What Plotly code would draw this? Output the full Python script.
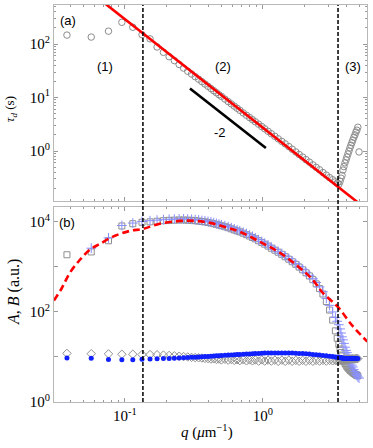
import math
import plotly.graph_objects as go

# ---------------- data ----------------
q = [0.038, 0.057, 0.076, 0.095, 0.114, 0.133, 0.152, 0.171, 0.19, 0.209,
     0.228, 0.247, 0.266, 0.285, 0.304, 0.323, 0.342, 0.361, 0.38, 0.40,
     0.42, 0.44, 0.46, 0.48, 0.50, 0.53, 0.56, 0.59, 0.62, 0.65,
     0.68, 0.72, 0.76, 0.80, 0.84, 0.88, 0.93, 0.98, 1.03, 1.09,
     1.15, 1.22, 1.29, 1.37, 1.45, 1.54, 1.63, 1.73, 1.83, 1.94,
     2.05, 2.17, 2.30, 2.43, 2.57, 2.72, 2.88, 3.04, 3.2, 3.35,
     3.45, 3.55, 3.62, 3.68, 3.74, 3.8, 3.86, 3.93, 4.0, 4.06,
     4.13, 4.2, 4.27, 4.34, 4.41, 4.48, 4.56, 4.64, 4.72, 4.79,
     4.87, 4.97]

tau = [147, 135, 174, 255, 206, 150, 125, 88, 70, 58,
       49, 41.5, 35.5, 31, 27.5, 24.5, 22, 19.8, 17.9, 16.2,
       14.7, 13.4, 12.3, 11.3, 10.5, 9.35, 8.4, 7.6, 6.9, 6.3,
       5.75, 5.15, 4.65, 4.22, 3.85, 3.52, 3.17, 2.86, 2.6, 2.33,
       2.1, 1.88, 1.69, 1.51, 1.36, 1.21, 1.08, 0.96, 0.86, 0.77,
       0.69, 0.62, 0.55, 0.495, 0.445, 0.395, 0.355, 0.318, 0.29, 0.265,
       0.25, 0.24, 0.27, 0.31, 0.35, 0.44, 0.51, 0.60, 0.68, 0.77,
       0.88, 1.0, 1.14, 1.28, 1.43, 1.6, 1.8, 2.0, 2.25, 2.45,
       2.78, 0.96]

A_gray = [1860, 2150, 3800, 8100, 9100, 9800, 10000, 10300, 10600, 10800,
          10900, 11000, 11000, 10900, 10800, 10600, 10400, 10200, 10000, 9700,
          9400, 9100, 8800, 8500, 8200, 7800, 7400, 7000, 6600, 6300,
          6000, 5600, 5200, 4850, 4500, 4200, 3800, 3500, 3200, 2900,
          2600, 2350, 2120, 1900, 1680, 1480, 1300, 1140, 990, 860,
          740, 630, 520, 420, 330, 250, 170, 110, 66, 38,
          26, 19, 15, 12.5, 10.5, 9, 8, 7.2, 6.6, 6.1,
          5.7, 5.4, 5.1, 4.9, 4.7, 4.5, 4.3, 4.15, 4.0, 3.9,
          3.8, None]

A_blue = [None, 2600, 4400, 8300, 9400, 10200, 10600, 10900, 11200, 11400,
          11500, 11600, 11600, 11500, 11400, 11200, 11000, 10700, 10500, 10200,
          9900, 9600, 9200, 8900, 8600, 8200, 7800, 7400, 7000, 6600,
          6300, 5900, 5500, 5100, 4750, 4400, 4000, 3650, 3350, 3050,
          2750, 2450, 2200, 1980, 1750, 1540, 1350, 1180, 1030, 890,
          760, 650, 545, 450, 360, 280, 200, 140, 100, 75,
          62, 52, 42, 34, 28, 24, 20, 16.5, 14, 12.5,
          11, 9.6, 8.4, 7.4, 6.6, 6.0, 5.3, 4.7, 4.2, 3.9,
          3.6, 3.4]

B_gray = [12.0, 11.8, 11.7, 11.5, 11.5, 11.3, 11.3, 11.2, 11.0, 10.8,
          10.6, 10.4, 10.2, 10.0, 9.8, 9.7, 9.6, 9.5, 9.3, 9.2,
          9.0, 9.1, 8.8, 9.0, 8.6, 8.9, 8.5, 8.8, 8.4, 8.7,
          8.3, 8.7, 8.2, 8.6, 8.2, 8.6, 8.1, 8.6, 8.1, 8.5,
          8.1, 8.5, 8.0, 8.5, 8.0, 8.5, 8.0, 8.4, 8.0, 8.4,
          8.0, 8.4, 8.0, 8.4, 8.1, 8.4, 8.1, 8.4, 8.2, 8.4,
          8.3, 8.5, 8.4, 8.6, 8.5, 8.7, 8.6, 8.8, 8.7, 8.9,
          8.8, 9.0, 8.9, 9.0, 9.0, 9.1, 9.0, 9.1, 9.1, 9.2,
          9.2, None]

B_blue = [9.5, 9.4, 8.8, 8.7, 8.7, 8.9, 9.0, 9.1, 9.2, 9.3,
          9.4, 9.5, 9.6, 9.7, 9.8, 9.9, 10.0, 10.1, 10.2, 10.3,
          10.4, 10.5, 10.6, 10.7, 10.8, 10.9, 11.0, 11.1, 11.2, 11.3,
          11.4, 11.5, 11.6, 11.7, 11.8, 11.9, 12.0, 12.1, 12.2, 12.3,
          12.3, 12.3, 12.3, 12.3, 12.3, 12.2, 12.2, 12.1, 12.0, 11.9,
          11.8, 11.6, 11.4, 11.2, 11.0, 10.8, 10.6, 10.4, 10.2, 10.0,
          9.9, 9.8, 9.7, 9.6, 9.5, 9.4, 9.4, 9.3, 9.3, 9.2,
          9.2, 9.2, 9.2, 9.2, 9.2, 9.2, 9.2, 9.2, 9.2, 9.2,
          9.2, None]

# power-law fit of tau_d (red line)
fit_tau_q = [0.07, 4.9]
fit_tau = [601, 0.108]

# slope -2 guide
slope_q = [0.296, 1.05]
slope_tau = [14.7, 1.14]

# model curve of A (red dashed)
fitA_q = [0.0306, 0.0349, 0.0399, 0.0472, 0.0557, 0.0659, 0.0846, 0.1087, 0.135,
          0.179, 0.25, 0.321, 0.413, 0.531, 0.682, 0.952, 1.33, 1.85, 2.30,
          2.68, 3.49, 4.41, 5.7]
fitA = [180, 340, 740, 1440, 2400, 3250, 4900, 6300, 7000,
        9100, 10500, 10500, 9500, 7700, 6000, 3600, 2050, 950, 515,
        277, 129, 51, 22]

# regime boundaries
q_bounds = [0.135, 3.5]

# axis ranges (log10) and tick labels
XR = [-1.514, 0.754]
YR_TOP = [-0.935, 2.73]
YR_BOT = [0.0, 4.33]
x_tickvals = [0.1, 1]
x_ticktext = ["10<sup>-1</sup>", "10<sup>0</sup>"]
ytop_tickvals = [1, 10, 100]
ytop_ticktext = ["10<sup>0</sup>", "10<sup>1</sup>", "10<sup>2</sup>"]
ybot_tickvals = [1, 10, 100, 1000, 10000]
ybot_ticktext = ["10<sup>0</sup>", "", "10<sup>2</sup>", "", "10<sup>4</sup>"]

# ---------------- figure ----------------
GRAY = "#8c8c8c"
fig = go.Figure()

# top panel
fig.add_trace(go.Scatter(x=q, y=tau, mode="markers", xaxis="x2", yaxis="y2",
                         marker=dict(symbol="circle-open", size=6.5, color=GRAY,
                                     line=dict(width=1, color=GRAY))))
fig.add_trace(go.Scatter(x=fit_tau_q, y=fit_tau, mode="lines", xaxis="x2", yaxis="y2",
                         line=dict(color="#ff0000", width=2.6)))
fig.add_trace(go.Scatter(x=slope_q, y=slope_tau, mode="lines", xaxis="x2", yaxis="y2",
                         line=dict(color="black", width=2.6)))

# bottom panel
fig.add_trace(go.Scatter(x=q, y=A_gray, mode="markers",
                         marker=dict(symbol="square-open", size=6, color="#8f8f8f",
                                     line=dict(width=1, color="#8f8f8f"))))
fig.add_trace(go.Scatter(x=q, y=A_blue, mode="markers",
                         marker=dict(symbol="cross-thin-open", size=7, color="#8a90ff",
                                     line=dict(width=1, color="#8a90ff"))))
fig.add_trace(go.Scatter(x=q, y=B_gray, mode="markers",
                         marker=dict(symbol="diamond-open", size=6.5, color="#8f8f8f",
                                     line=dict(width=1, color="#8f8f8f"))))
fig.add_trace(go.Scatter(x=q, y=B_blue, mode="markers",
                         marker=dict(symbol="circle", size=5, color="#1020ff")))
fig.add_trace(go.Scatter(x=fitA_q, y=fitA, mode="lines", line_shape="spline",
                         line=dict(color="#ff0000", width=2.6, dash="7px,4px")))

axis_common = dict(type="log", showline=True, linecolor="#b8b8b8", linewidth=1,
                   mirror="ticks", ticks="inside", ticklen=4, tickcolor="#999999",
                   showgrid=False, zeroline=False, automargin=False,
                   tickfont=dict(family="Liberation Serif", size=15, color="black"))

minor_x = [m * 10 ** e for e in (-2, -1, 0) for m in range(2, 10)]
minor_y = [m * 10 ** e for e in (-1, 0, 1, 2) for m in range(2, 10)]

fig.update_layout(
    width=373, height=448,
    margin=dict(l=54, r=6, t=5, b=46),
    paper_bgcolor="white", plot_bgcolor="white",
    showlegend=False,
    xaxis=dict(**axis_common, domain=[0, 1], anchor="y", range=XR,
               tickvals=x_tickvals, ticktext=x_ticktext,
               minor=dict(tickvals=minor_x, ticks="inside", ticklen=2, tickcolor="#999999")),
    xaxis2=dict(**axis_common, domain=[0, 1], anchor="y2", range=XR, matches="x",
                tickvals=x_tickvals, showticklabels=False,
                minor=dict(tickvals=minor_x, ticks="inside", ticklen=2, tickcolor="#999999")),
    yaxis=dict(**axis_common, domain=[0, 0.4912], anchor="x", range=YR_BOT,
               tickvals=ybot_tickvals, ticktext=ybot_ticktext),
    yaxis2=dict(**axis_common, domain=[0.5063, 1], anchor="x2", range=YR_TOP,
                tickvals=ytop_tickvals, ticktext=ytop_ticktext,
                minor=dict(tickvals=minor_y, ticks="inside", ticklen=2, tickcolor="#999999")),
)

# vertical dashed boundaries across both panels
for qb in q_bounds:
    xp = (math.log10(qb) - XR[0]) / (XR[1] - XR[0])
    fig.add_shape(type="line", xref="paper", yref="paper", x0=xp, x1=xp, y0=0, y1=1,
                  line=dict(color="black", width=1.5, dash="4px,2px"))

# labels
def lab(text, xp, yp, size=13, family="Liberation Sans", angle=0):
    fig.add_annotation(text=text, xref="paper", yref="paper", x=xp, y=yp,
                       showarrow=False, xanchor="center", yanchor="middle",
                       textangle=angle, font=dict(family=family, size=size, color="black"))

lab("(a)", 0.045, 0.962)
lab("(1)", 0.163, 0.844)
lab("(2)", 0.540, 0.844)
lab("(3)", 0.955, 0.844)
lab("-2", 0.530, 0.680)
lab("(b)", 0.042, 0.453)
lab("<i>τ<sub>d</sub></i> (s)", -0.140, 0.738, size=13, family="Liberation Serif", angle=-90)
lab("<i>A</i>, <i>B</i> (a.u.)", -0.128, 0.277, size=16, family="Liberation Serif", angle=-90)
lab("<i>q</i> (<i>μ</i>m<sup>−1</sup>)", 0.49, -0.075, size=15, family="Liberation Serif")

fig.write_html("out.html", config={"displayModeBar": False},
               post_script="document.body.style.margin='0';document.body.style.overflow='hidden';")
